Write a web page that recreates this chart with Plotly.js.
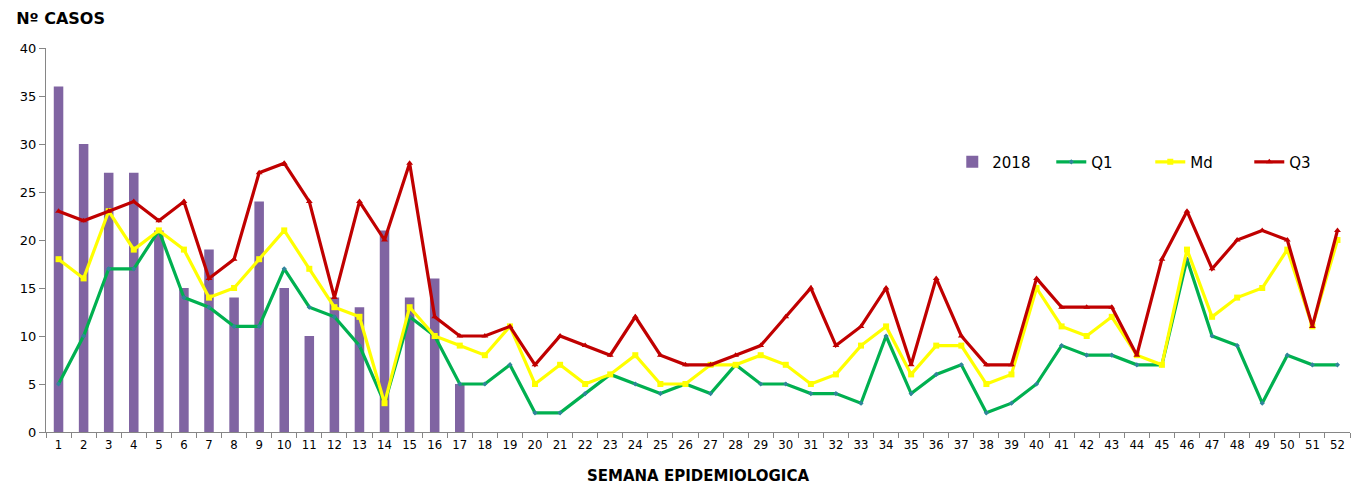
<!DOCTYPE html>
<html>
<head>
<meta charset="utf-8">
<script src="https://cdn.plot.ly/plotly-3.0.1.min.js"></script>
<style>html,body{margin:0;padding:0;background:#fff;}#chart{width:1352px;height:485px;}</style>
</head>
<body>
<div id="chart"></div>
<script>
const weeks = Array.from({length: 52}, (_, i) => String(i + 1));
const cases2018 = [36,30,27,27,21,15,19,14,24,15,10,14,13,21,14,16,5];
const q1 = [5,10,17,17,21,14,13,11,11,17,13,12,9,3,12,10,5,5,7,2,2,4,6,5,4,5,4,7,5,5,4,4,3,10,4,6,7,2,3,5,9,8,8,7,7,18,10,9,3,8,7,7];
const md = [18,16,23,19,21,19,14,15,18,21,17,13,12,3,13,10,9,8,11,5,7,5,6,8,5,5,7,7,8,7,5,6,9,11,6,9,9,5,6,15,11,10,12,8,7,19,12,14,15,19,11,20];
const q3 = [23,22,23,24,22,24,16,18,27,28,24,14,24,20,28,12,10,10,11,7,10,9,8,12,8,7,7,8,9,12,15,9,11,15,7,16,10,7,7,16,13,13,13,8,18,23,17,20,21,20,11,21];
const yTicks = [0,5,10,15,20,25,30,35,40];

const traces = [
  {type:'bar', name:'2018', x: weeks.slice(0, cases2018.length), y: cases2018,
   marker:{color:'#8064A2'}, width:0.38},
  {type:'scatter', mode:'lines+markers', name:'Q1', x: weeks, y: q1,
   line:{color:'#00B050', width:3.2}, marker:{symbol:'diamond', size:4, color:'#31859C'}},
  {type:'scatter', mode:'lines+markers', name:'Md', x: weeks, y: md,
   line:{color:'#FFFF00', width:3.2}, marker:{symbol:'square', size:6, color:'#FFFF00'}},
  {type:'scatter', mode:'lines+markers', name:'Q3', x: weeks, y: q3,
   line:{color:'#C00000', width:3.2}, marker:{symbol:'triangle-up', size:6, color:'#C00000'}}
];

const layout = {
  width:1352, height:485,
  margin:{l:46, r:2, t:48, b:53},
  paper_bgcolor:'#fff', plot_bgcolor:'#fff',
  showlegend:true,
  title:{text:'<b>Nº CASOS</b>', x:0.012, xanchor:'left', xref:'container', y:0.963, yanchor:'middle', yref:'container',
         font:{family:'DejaVu Sans, Verdana, sans-serif', size:16, color:'#000'}},
  legend:{orientation:'h', x:0.695, xanchor:'left', y:0.703, yanchor:'middle',
          font:{family:'DejaVu Sans, Verdana, sans-serif', size:15, color:'#000'},
          bgcolor:'rgba(0,0,0,0)', traceorder:'normal', entrywidth:54, entrywidthmode:'pixels'},
  xaxis:{type:'category', range:[-0.5, 51.5], autorange:false, tickson:'boundaries', ticks:'outside', ticklen:5, tickcolor:'#868686',
         showline:true, linecolor:'#868686', linewidth:1, showgrid:false, zeroline:false,
         tickangle:0, tickfont:{family:'Liberation Sans Narrow, DejaVu Sans Condensed, sans-serif', size:13, color:'#000'},
         title:{text:'<b>SEMANA EPIDEMIOLOGICA</b>', standoff:20,
                font:{family:'DejaVu Sans, Verdana, sans-serif', size:15, color:'#000'}}},
  yaxis:{range:[0,40], autorange:false, tickvals:yTicks, ticktext:yTicks.map(String), ticks:'outside', ticklen:6, tickcolor:'#868686',
         showline:true, linecolor:'#868686', linewidth:1, showgrid:false, zeroline:false,
         tickfont:{family:'DejaVu Sans, Verdana, sans-serif', size:13, color:'#000'}},
  bargap:0.6
};

Plotly.newPlot('chart', traces, layout, {displayModeBar:false, staticPlot:true});
</script>
</body>
</html>
